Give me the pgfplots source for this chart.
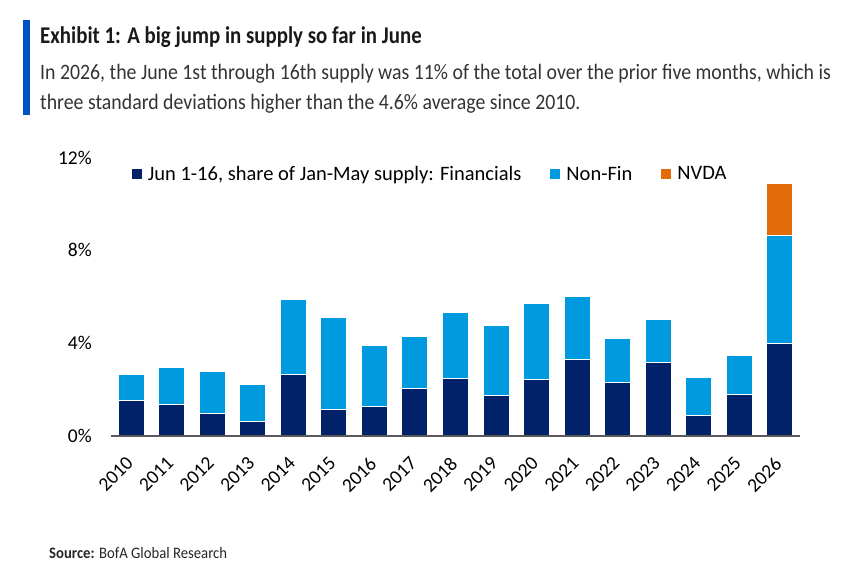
\documentclass[border=0pt]{standalone}
\usepackage{pgfplots}
\pgfplotsset{compat=1.18}
\usepackage{fontspec}
\setmainfont{Carlito}
\newfontfamily\condtitle[FakeStretch=0.87]{Carlito}
\newfontfamily\condtext[FakeStretch=0.90]{Carlito}
\newfontfamily\condsrc[FakeStretch=0.92]{Carlito}

\definecolor{finnavy}{RGB}{1,33,105}
\definecolor{nonfin}{RGB}{0,154,222}
\definecolor{nvda}{RGB}{227,108,10}
\definecolor{barblue}{RGB}{0,82,194}
\definecolor{axisgray}{RGB}{90,90,90}

\begin{document}
\begin{tikzpicture}
% page frame
\path (0pt,0pt) rectangle (849pt,-574pt);

% heading
\fill[barblue] (23pt,-20pt) rectangle (30pt,-115pt);
\node[anchor=base west, inner sep=0, text=black!90] at (40pt,-43pt)
  {\condtitle\bfseries\fontsize{24}{28}\selectfont Exhibit 1: A big jump in supply so far in June};
\node[anchor=base west, inner sep=0, text=black!80] at (40pt,-79pt)
  {\condtext\fontsize{22}{26}\selectfont In 2026, the June 1st through 16th supply was 11\% of the total over the prior five months, which is};
\node[anchor=base west, inner sep=0, text=black!80] at (40pt,-109pt)
  {\condtext\fontsize{22}{26}\selectfont three standard deviations higher than the 4.6\% average since 2010.};

\begin{axis}[
  at={(111pt,-436pt)}, anchor=south west,
  scale only axis, width=689pt, height=278.4pt,
  ybar stacked, bar width=26pt,
  xmin=-0.5, xmax=16.5, ymin=0, ymax=12,
  xtick=data,
  xticklabels={2010,2011,2012,2013,2014,2015,2016,2017,2018,2019,2020,2021,2022,2023,2024,2025,2026},
  ytick={0,4,8,12},
  yticklabel={\pgfmathprintnumber{\tick}\%},
  /pgf/number format/assume math mode=true,
  axis on top,
  axis x line*=bottom, axis y line*=left,
  x axis line style={axisgray, line width=1.5pt, -},
  y axis line style={draw=none},
  major tick length=0pt,
  tick style={draw=none},
  tick label style={font=\fontsize{19.5}{22}\selectfont, text=black},
  xticklabel style={anchor=east, rotate=45, inner sep=0pt, xshift=-2pt},
  xticklabel shift=23pt,
  yticklabel style={anchor=east, inner sep=0pt},
  yticklabel shift=19pt,
  legend columns=3,
  legend style={at={(0.03,0.941)}, anchor=west, draw=none, fill=none,
    inner sep=0pt, font=\fontsize{20.5}{24}\selectfont,
    nodes={inner sep=0pt},
    /tikz/every odd column/.append style={column sep=6pt},
    /tikz/every even column/.append style={column sep=29pt}},
  legend image code/.code={\fill[#1, draw=none] (0pt,-5pt) rectangle (10pt,5pt);},
  every axis plot/.append style={draw=white, line width=1pt},
  clip=false,
]
\addplot[fill=finnavy] coordinates {
  (0,1.51) (1,1.37) (2,0.98) (3,0.62) (4,2.63) (5,1.15) (6,1.26) (7,2.05) (8,2.47)
  (9,1.75) (10,2.43) (11,3.28) (12,2.31) (13,3.19) (14,0.89) (15,1.81) (16,4.00)};
\addplot[fill=nonfin] coordinates {
  (0,1.12) (1,1.59) (2,1.79) (3,1.59) (4,3.25) (5,3.95) (6,2.63) (7,2.22) (8,2.85)
  (9,3.03) (10,3.29) (11,2.75) (12,1.90) (13,1.85) (14,1.64) (15,1.68) (16,4.66)};
\addplot[fill=nvda] coordinates {
  (0,0) (1,0) (2,0) (3,0) (4,0) (5,0) (6,0) (7,0) (8,0)
  (9,0) (10,0) (11,0) (12,0) (13,0) (14,0) (15,0) (16,2.24)};
\legend{{Jun 1-16, share of Jan-May supply: Financials}, Non-Fin, NVDA}
\end{axis}

% source line
\node[anchor=base west, inner sep=0, text=black!85] at (49pt,-558pt)
  {\condsrc\fontsize{16}{19}\selectfont\textbf{Source:} BofA Global Research};
\end{tikzpicture}
\end{document}
